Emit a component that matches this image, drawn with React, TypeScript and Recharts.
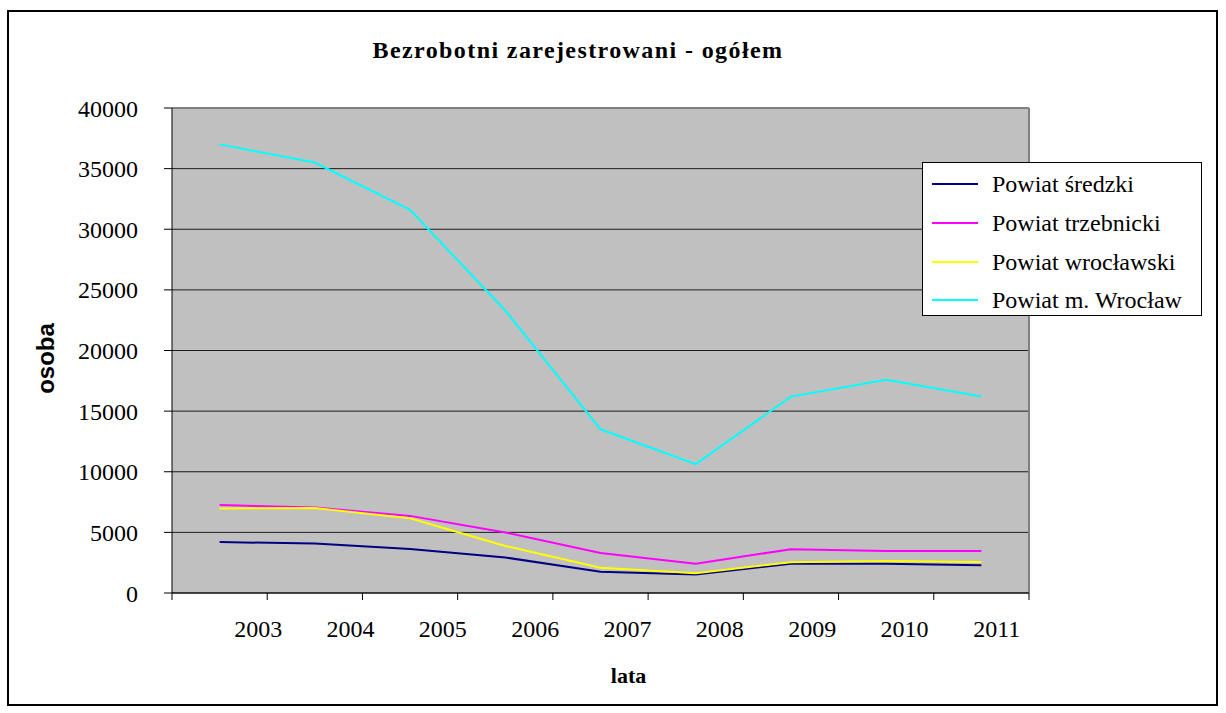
import { LineChart, Line, XAxis, YAxis, CartesianGrid, Legend, ReferenceLine } from 'recharts';

const years = ['2003', '2004', '2005', '2006', '2007', '2008', '2009', '2010', '2011'];
const seriesNames = ['Powiat średzki', 'Powiat trzebnicki', 'Powiat wrocławski', 'Powiat m. Wrocław'];
const sredzki = [4200, 4080, 3620, 2930, 1760, 1530, 2420, 2420, 2290];
const trzebnicki = [7250, 7050, 6360, 4990, 3300, 2420, 3610, 3470, 3470];
const wroclawski = [6970, 7000, 6170, 3880, 2090, 1630, 2540, 2640, 2560];
const wroclaw = [37000, 35500, 31600, 23300, 13500, 10630, 16200, 17590, 16210];
const yTicks = [0, 5000, 10000, 15000, 20000, 25000, 30000, 35000, 40000];
const xTicks = [0, 1, 2, 3, 4, 5, 6, 7, 8, 9];

const data = years.map((y, i) => ({
    x: i + 0.5,
    year: y,
    sredzki: sredzki[i],
    trzebnicki: trzebnicki[i],
    wroclawski: wroclawski[i],
    wroclaw: wroclaw[i],
}));

const SERIF = "'Liberation Serif', 'DejaVu Serif', Times, serif";
const SANS = "'Liberation Sans', Arial, sans-serif";

// excel draws the year labels a bit off the boundary ticks, drifting left
function YearTick(props: any) {
    const { x, y, payload } = props;
    const v = payload.value;
    if (v < 1) return null;
    const shift = -9 - 2.9 * (v - 1);
    return (
        <text x={x + shift} y={y} dy="0.71em" textAnchor="middle" fill="#000" style={{ fontSize: 24, fontFamily: SERIF }}>
            {years[v - 1]}
        </text>
    );
}

function YTick(props: any) {
    const { x, y, payload } = props;
    return (
        <text x={x} y={y} dy="0.355em" textAnchor="end" fill="#000" style={{ fontSize: 24, fontFamily: SERIF }}>
            {payload.value}
        </text>
    );
}

function OsobaLabel(props: any) {
    const { viewBox } = props;
    const cx = viewBox.x + 23;
    const cy = viewBox.y + viewBox.height / 2 + 8;
    return (
        <text x={cx} y={cy} transform={`rotate(-90, ${cx}, ${cy})`} textAnchor="middle" dominantBaseline="central"
            fill="#000" style={{ fontFamily: SANS, fontWeight: 'bold', fontSize: 24 }}>
            osoba
        </text>
    );
}

function LataLabel(props: any) {
    const { viewBox } = props;
    const cx = viewBox.x + viewBox.width / 2 + 28;
    return (
        <text x={cx} y={683} textAnchor="middle" fill="#000" style={{ fontFamily: SERIF, fontWeight: 'bold', fontSize: 22 }}>
            lata
        </text>
    );
}

function LegendBox(props: any) {
    const items = [...(props.payload || [])].sort(
        (a: any, b: any) => seriesNames.indexOf(a.value) - seriesNames.indexOf(b.value)
    );
    return (
        <div style={{ width: 280, height: 154, border: '1px solid #000', background: '#fff', boxSizing: 'border-box', paddingTop: 2, fontFamily: SERIF, fontSize: 24, color: '#000' }}>
            {items.map((p: any) => (
                <div key={p.value} style={{ height: 38.7, display: 'flex', alignItems: 'center' }}>
                    <div style={{ width: 46, height: 2, background: p.color, marginLeft: 9, marginRight: 14 }} />
                    <span style={{ lineHeight: '24px', whiteSpace: 'nowrap' }}>{p.value}</span>
                </div>
            ))}
        </div>
    );
}

export default function App() {
    return (
        <div style={{ position: 'relative', width: 1226, height: 713, background: '#fff', fontFamily: SERIF }}>
            <style>{`body{margin:0}`}</style>
            <div style={{ position: 'absolute', left: 7, top: 10, width: 1211, height: 696, border: '2px solid #000', boxSizing: 'border-box' }} />
            <div style={{ position: 'absolute', left: 0, top: 38, width: 1156, textAlign: 'center', fontFamily: SERIF, fontWeight: 'bold', fontSize: 24, lineHeight: '24px', letterSpacing: 1.4 }}>
                Bezrobotni zarejestrowani - ogółem
            </div>
            <div style={{ position: 'absolute', left: 0, top: 0 }}>
                <LineChart width={1226} height={713} data={data} margin={{ top: 108, right: 197, bottom: 20, left: 22 }} style={{ fontFamily: SERIF }}>
                    <CartesianGrid horizontal vertical={false} stroke="#000" strokeOpacity={0.85} fill="#C0C0C0" fillOpacity={1} />
                    <XAxis
                        dataKey="x"
                        type="number"
                        domain={[0, 9]}
                        ticks={xTicks}
                        interval={0}
                        height={100}
                        tickSize={7}
                        tickMargin={20}
                        tick={<YearTick />}
                        stroke="#000"
                        label={<LataLabel />}
                    />
                    <YAxis
                        domain={[0, 40000]}
                        ticks={yTicks}
                        interval={0}
                        width={150}
                        tickSize={8}
                        tickMargin={26}
                        stroke="#000"
                        tick={<YTick />}
                        label={<OsobaLabel />}
                    />
                    <ReferenceLine y={40000} stroke="#808080" strokeWidth={2} />
                    <ReferenceLine x={9} stroke="#808080" strokeWidth={2} />
                    <Legend
                        layout="vertical"
                        align="center"
                        verticalAlign="middle"
                        wrapperStyle={{ left: 922, top: 162, width: 280 }}
                        content={<LegendBox />}
                    />
                    <Line name={seriesNames[0]} dataKey="sredzki" stroke="#000080" strokeWidth={2} dot={false} isAnimationActive={false} />
                    <Line name={seriesNames[1]} dataKey="trzebnicki" stroke="#FF00FF" strokeWidth={2} dot={false} isAnimationActive={false} />
                    <Line name={seriesNames[2]} dataKey="wroclawski" stroke="#FFFF00" strokeWidth={2} dot={false} isAnimationActive={false} />
                    <Line name={seriesNames[3]} dataKey="wroclaw" stroke="#00FFFF" strokeWidth={2} dot={false} isAnimationActive={false} />
                </LineChart>
            </div>
        </div>
    );
}
